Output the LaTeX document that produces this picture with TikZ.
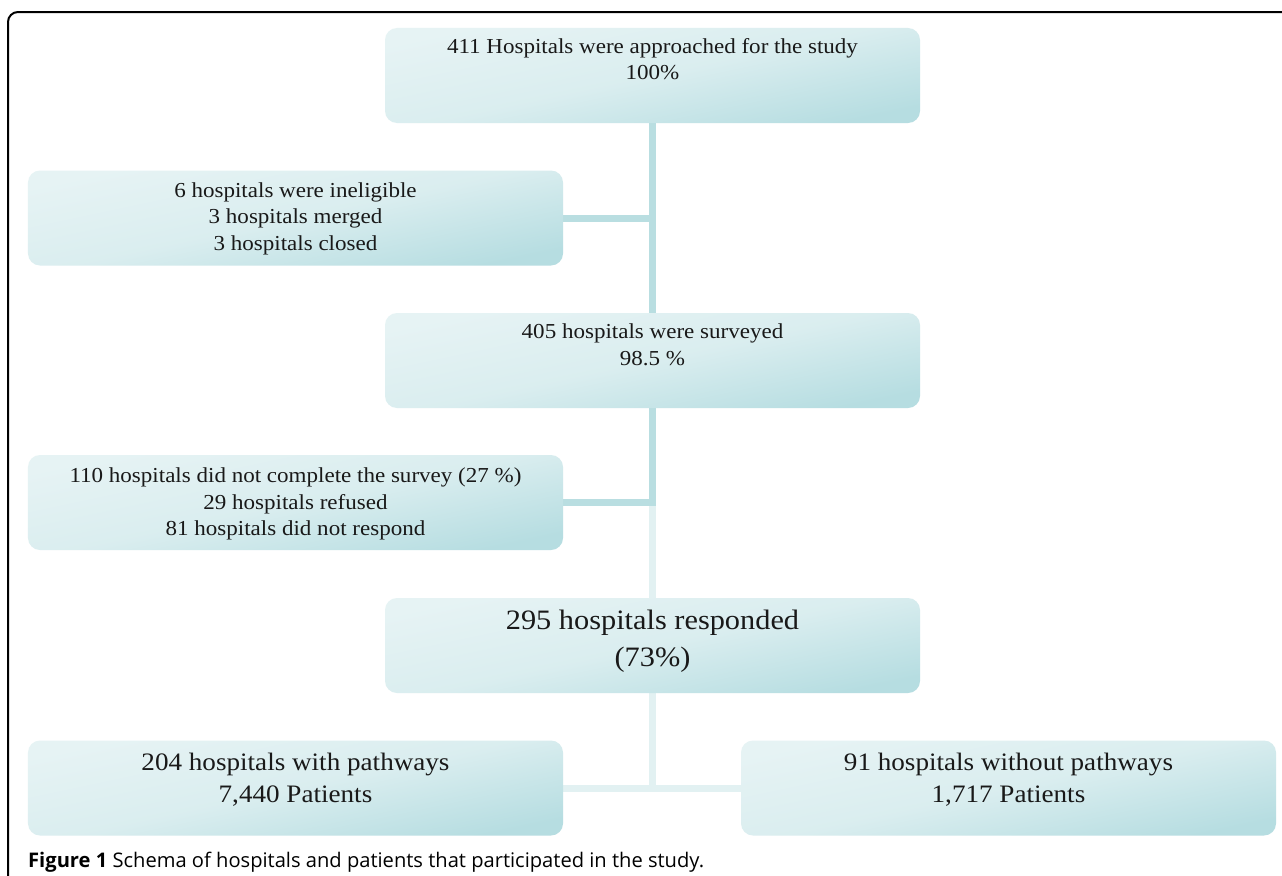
\documentclass[tikz,border=0pt]{standalone}
\usepackage{fontspec}
\usepackage{graphicx}
\setmainfont{Liberation Serif}
\newfontfamily\capfont{Open Sans}
\usetikzlibrary{backgrounds}
\definecolor{boxlight}{HTML}{E6F3F4}
\definecolor{boxdark}{HTML}{B6DDE1}
\definecolor{conndark}{HTML}{B9DEE1}
\definecolor{connlight}{HTML}{E2F1F2}
\newcommand\wl[1]{\scalebox{1.08}[1]{#1}}
\tikzset{
  box/.style={rectangle, rounded corners=12bp, minimum width=535bp, minimum height=95bp,
    top color=boxlight, bottom color=boxdark, middle color=boxlight!75!boxdark,
    shading angle=12, inner sep=0pt},
  txt/.style={anchor=base, align=center, inner sep=0pt, text=black!90},
  conn/.style={line width=7bp, conndark},
  connl/.style={line width=7bp, connlight},
}
\begin{document}
\begin{tikzpicture}[x=1bp,y=-1bp]
\useasboundingbox (0,0) rectangle (1282,876);
\draw[line width=2bp, rounded corners=10bp] (1290,12) -- (8,12) -- (8,890);
\node[box] (b1) at (652.5,75.5) {};
\node[box] (b2) at (295.5,218) {};
\node[box] (b3) at (652.5,360.5) {};
\node[box] (b4) at (295.5,502.5) {};
\node[box] (b5) at (652.5,645.5) {};
\node[box] (b6) at (295.5,788) {};
\node[box] (b7) at (1008.5,788) {};
\coordinate (j2) at (b2.east -| b1.south);
\coordinate (j4) at (b4.east -| b3.south);
\coordinate (j6) at (b6.east -| b5.south);
\begin{scope}[on background layer]
\fill[white] (0,0) rectangle (1282,876);
\draw[conn] (b1.south) -- (b3.north);
\draw[conn] (b2.east) -- ([xshift=3.5bp]j2);
\draw[connl] ([yshift=3.5bp]j4) -- (b5.north);
\draw[conn] (b3.south) -- ([yshift=3.5bp]j4);
\draw[conn] (b4.east) -- ([xshift=3.5bp]j4);
\draw[connl] (b5.south) -- (j6);
\draw[connl] (b6.east) -- (b7.west);
\end{scope}
% anchor=base is the baseline of the last line
\node[txt, font=\fontsize{21.4}{26.6}\selectfont] (t1) at (652.5,79.9) {\wl{411 Hospitals were approached for the study}\\\wl{100\%}};
\node[txt, font=\fontsize{21.4}{26.6}\selectfont] (t2) at (295.5,250) {\wl{6 hospitals were ineligible}\\\wl{3 hospitals merged}\\\wl{3 hospitals closed}};
\node[txt, font=\fontsize{21.4}{26.6}\selectfont] (t3) at (652.5,365) {\wl{405 hospitals were surveyed}\\\wl{98.5 \%}};
\node[txt, font=\fontsize{21.4}{26.6}\selectfont] (t4) at (295.5,535.7) {\wl{110 hospitals did not complete the survey (27 \%)}\\\wl{29 hospitals refused}\\\wl{81 hospitals did not respond}};
\node[txt, font=\fontsize{28.2}{36.7}\selectfont] (t5) at (652.5,666) {\wl{295 hospitals responded}\\\wl{(73\%)}};
\node[txt, font=\fontsize{25.2}{32}\selectfont] (t6) at (295.5,802.3) {\wl{204 hospitals with pathways}\\\wl{7,440 Patients}};
\node[txt, font=\fontsize{25.2}{32}\selectfont] (t7) at (1008.5,802.3) {\wl{91 hospitals without pathways}\\\wl{1,717 Patients}};
\node[anchor=base west, inner sep=0pt, font=\capfont\fontsize{20.2}{22}\selectfont] (cap) at (28,867) {\textbf{Figure 1} Schema of hospitals and patients that participated in the study.};
\end{tikzpicture}
\end{document}
